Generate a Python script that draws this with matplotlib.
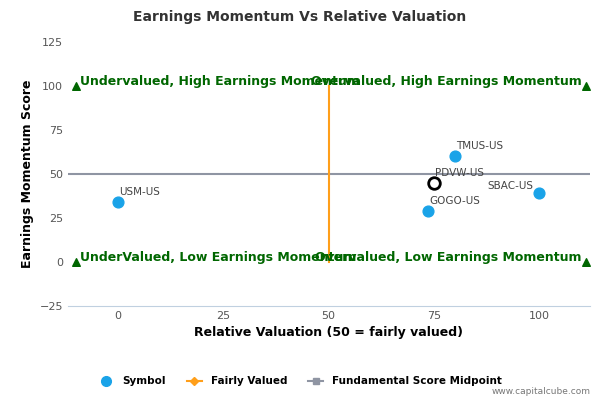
import matplotlib.pyplot as plt
from matplotlib.lines import Line2D

names = ["USM-US", "GOGO-US", "TMUS-US", "SBAC-US"]
xv = [0, 73.5, 80, 100]
yv = [34, 29, 60, 39]
sel_name = "PDVW-US"; sel_x = 75; sel_y = 45
tri_x = [-10, 111, -10, 111]
tri_y = [100, 100, 0, 0]

fig = plt.figure(figsize=(6, 4), dpi=100)
ax = fig.add_axes([0.113, 0.235, 0.87, 0.66])
ax.set_xlim(-11.9, 112)
ax.set_ylim(-25, 125)
ax.axhline(50, color="#8f95a3", lw=1.5, zorder=1)
ax.plot([50, 50], [0, 100], color="#ff9f1a", lw=1.5, zorder=1)
ax.scatter(xv, yv, s=60, color="#1aa3e8", zorder=3)
ax.scatter([sel_x], [sel_y], s=70, facecolor="white", edgecolor="black", lw=2, zorder=4)
ax.scatter(tri_x, tri_y, marker="^", s=30, color="#006600", zorder=3)
for n, x, y in zip(names + [sel_name], xv + [sel_x], yv + [sel_y]):
    if n == "SBAC-US":
        ax.annotate(n, (x, y), xytext=(-4, 3), textcoords="offset points", ha="right", fontsize=7.5, color="#444444")
    else:
        ax.annotate(n, (x, y), xytext=(1, 5), textcoords="offset points", fontsize=7.5, color="#444444")
g = dict(color="#006600", fontsize=9, fontweight="bold")
ax.text(-9, 99, "Undervalued, High Earnings Momentum", ha="left", va="bottom", **g)
ax.text(110, 99, "Overvalued, High Earnings Momentum", ha="right", va="bottom", **g)
ax.text(-9, -1, "UnderValued, Low Earnings Momentum", ha="left", va="bottom", **g)
ax.text(110, -1, "Overvalued, Low Earnings Momentum", ha="right", va="bottom", **g)
ax.set_xticks([0, 25, 50, 75, 100])
ax.set_yticks([-25, 0, 25, 50, 75, 100, 125])
ax.tick_params(labelsize=8, colors="#555555", length=0)
for s in ["top", "right", "left"]:
    ax.spines[s].set_visible(False)
ax.spines["bottom"].set_color("#c0d0e0")
ax.set_xlabel("Relative Valuation (50 = fairly valued)", fontsize=9, fontweight="bold")
ax.set_ylabel("Earnings Momentum Score", fontsize=9, fontweight="bold")
fig.suptitle("Earnings Momentum Vs Relative Valuation", x=0.5, y=0.975, fontsize=10, fontweight="bold", color="#333333")
h = [Line2D([], [], marker="o", ls="", color="#1aa3e8", ms=7),
     Line2D([], [], marker="D", color="#ff9f1a", ms=4),
     Line2D([], [], marker="s", color="#8f95a3", ms=5)]
fig.legend(h, ["Symbol", "Fairly Valued", "Fundamental Score Midpoint"], loc="center", bbox_to_anchor=(0.5, 0.047),
           ncol=3, frameon=False, prop={"size": 7.5, "weight": "bold"}, handlelength=1.5)
fig.text(0.985, 0.015, "www.capitalcube.com", ha="right", fontsize=6.5, color="#777777")
fig.savefig("out.png")
